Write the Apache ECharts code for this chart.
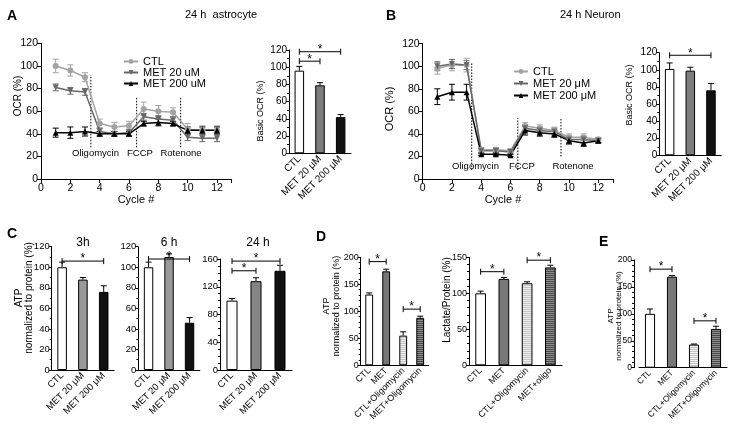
<!DOCTYPE html>
<html>
<head>
<meta charset="utf-8">
<script src="https://cdn.jsdelivr.net/npm/echarts@6/dist/echarts.min.js"></script>
<style>html,body{margin:0;padding:0;background:#fff}#chart{width:734px;height:430px}</style>
</head>
<body>
<div id="chart"></div>
<script>
// ---- data ----
var cycles = [1, 2, 3, 4, 5, 6, 7, 8, 9, 10, 11, 12];

// A: 24 h astrocyte, OCR (%)
var aCtl = [100, 96, 90, 49, 46, 47, 62, 60, 59, 44, 43, 43];
var aCtlErr = [6, 5, 4, 4, 4, 4, 6, 5, 4, 5, 4, 4];
var aMet20 = [81, 78, 77, 42, 40, 41, 55, 53, 52, 37, 36, 36];
var aMet20Err = [3, 3, 3, 3, 2, 3, 3, 3, 3, 3, 3, 3];
var aMet200 = [41, 41, 42, 40, 40, 40, 49, 50, 49, 43, 43, 43];
var aMet200Err = [4, 5, 4, 2, 2, 2, 2, 3, 2, 3, 3, 3];

// B: 24 h neuron, OCR (%)
var bCtl = [98, 101, 101, 26, 26, 25, 47, 45, 43, 37, 37, 35];
var bCtlErr = [5, 5, 6, 2, 2, 2, 3, 3, 3, 3, 3, 2];
var bMet20 = [100, 102, 101, 25, 25, 24, 45, 43, 42, 35, 35, 34];
var bMet20Err = [4, 4, 4, 2, 2, 2, 3, 3, 3, 3, 3, 2];
var bMet200 = [73, 77, 77, 22, 22, 21, 43, 41, 40, 34, 32, 34];
var bMet200Err = [7, 7, 7, 1, 1, 1, 4, 3, 3, 3, 3, 2];

// injection marks: [cycle, from, to]
var aInject = [[3.4, 28, 92], [6.52, 28, 72], [9.52, 28, 72]];
var bInject = [[3.35, 8, 103], [6.5, 8, 54], [9.45, 20, 54]];

var doseCatsA = ['CTL', 'MET 20 μM', 'MET 200 μM'];
var oligoCats = ['CTL', 'MET', 'CTL+Oligomycin', 'MET+Oligomycin'];
var lactCats = ['CTL', 'MET', 'CTL+Oligomycin', 'MET+oligo'];

var aBasic = [96, 79, 42], aBasicErr = [5, 3, 3];
var bBasic = [101, 99, 76], bBasicErr = [7, 4, 8];
var c3h = [100, 88, 76], c3hErr = [5, 2, 6];
var c6h = [100, 110, 46], c6hErr = [5, 3, 5];
var c24h = [100, 128, 143], c24hErr = [3, 5, 8];
var dAtp = [131, 174, 55, 88], dAtpErr = [3, 4, 7, 3];
var dLact = [100, 120, 114, 136], dLactErr = [3, 2, 2, 3];
var eAtp = [100, 169, 43, 72], eAtpErr = [9, 2, 1, 5];

// significance brackets: [from, to, height]
var aBasicSig = [[0, 1, 107], [0, 2, 118]];
var bBasicSig = [[0, 2, 117]];
var c3hSig = [[0, 2, 106]];
var c6hSig = [[0, 2, 108]];
var c24hSig = [[0, 1, 143], [0, 2, 157]];
var dAtpSig = [[0, 1, 192], [2, 3, 104]];
var dLactSig = [[0, 1, 130], [2, 3, 146]];
var eAtpSig = [[0, 1, 183], [2, 3, 87]];

// ---- helpers ----
var FONT = '"Liberation Sans", Arial, sans-serif';
var grids = [], xAxes = [], yAxes = [], series = [];

function stripes(base, line) {
  var c = document.createElement('canvas');
  c.width = 4; c.height = 2;
  var g = c.getContext('2d');
  g.fillStyle = base; g.fillRect(0, 0, 4, 2);
  g.fillStyle = line; g.fillRect(0, 0, 4, 1);
  return { image: c, repeat: 'repeat' };
}

function errSeries(gi, xs, vals, errs, color, upOnly, cap) {
  return {
    type: 'custom', xAxisIndex: gi, yAxisIndex: gi, silent: true, z: 4,
    data: vals.map(function (v, i) { return [xs[i], v, errs[i]]; }),
    renderItem: function (params, api) {
      var x = api.value(0), v = api.value(1), e = api.value(2);
      var t = api.coord([x, v + e]);
      var b = upOnly ? api.coord([x, v]) : api.coord([x, v - e]);
      var st = { stroke: color, lineWidth: 1 };
      var ch = [
        { type: 'line', shape: { x1: t[0], y1: t[1], x2: b[0], y2: b[1] }, style: st },
        { type: 'line', shape: { x1: t[0] - cap, y1: t[1], x2: t[0] + cap, y2: t[1] }, style: st }
      ];
      if (!upOnly) ch.push({ type: 'line', shape: { x1: b[0] - cap, y1: b[1], x2: b[0] + cap, y2: b[1] }, style: st });
      return { type: 'group', children: ch };
    }
  };
}

function bracketSeries(gi, list) {
  return {
    type: 'custom', xAxisIndex: gi, yAxisIndex: gi, silent: true, z: 6,
    data: list,
    renderItem: function (params, api) {
      var a = api.coord([api.value(0), api.value(2)]);
      var b = api.coord([api.value(1), api.value(2)]);
      var st = { stroke: '#000', lineWidth: 1 };
      return { type: 'group', children: [
        { type: 'line', shape: { x1: a[0], y1: a[1], x2: b[0], y2: b[1] }, style: st },
        { type: 'line', shape: { x1: a[0], y1: a[1] - 3, x2: a[0], y2: a[1] + 3 }, style: st },
        { type: 'line', shape: { x1: b[0], y1: b[1] - 3, x2: b[0], y2: b[1] + 3 }, style: st },
        { type: 'text', style: { text: '*', x: (a[0] + b[0]) / 2, y: a[1] + 4, align: 'center', verticalAlign: 'bottom',
          fontSize: 12, fontFamily: FONT, fill: '#000' } }
      ] };
    }
  };
}

function dashSeries(gi, list) {
  return {
    type: 'custom', xAxisIndex: gi, yAxisIndex: gi, silent: true, z: 3,
    data: list,
    renderItem: function (params, api) {
      var p = api.coord([api.value(0), api.value(1)]);
      var q = api.coord([api.value(0), api.value(2)]);
      return { type: 'line', shape: { x1: p[0], y1: p[1], x2: q[0], y2: q[1] },
        style: { stroke: '#000', lineWidth: 1, lineDash: [1.5, 1.5] } };
    }
  };
}

var blk = { color: '#000', width: 1 };

function linePanel(box, sets) {
  var gi = grids.length;
  grids.push({ left: box[0], top: box[1], width: box[2], height: box[3], outerBoundsMode: 'none' });
  xAxes.push({ gridIndex: gi, type: 'value', min: 0, max: 13, interval: 2,
    axisLine: { lineStyle: blk }, axisTick: { length: 4, lineStyle: blk }, splitLine: { show: false },
    axisLabel: { fontSize: 10.5, fontFamily: FONT, color: '#000', margin: 4,
      formatter: function (v) { return v > 12 ? '' : v; } } });
  yAxes.push({ gridIndex: gi, type: 'value', min: 0, max: 120, interval: 20,
    axisLine: { show: true, lineStyle: blk }, axisTick: { show: true, length: 4, lineStyle: blk },
    splitLine: { show: false },
    axisLabel: { fontSize: 10.5, fontFamily: FONT, color: '#000', margin: 3 } });
  sets.forEach(function (s) {
    series.push({ type: 'line', name: s.name, xAxisIndex: gi, yAxisIndex: gi, z: 5,
      data: cycles.map(function (c, i) { return [c, s.vals[i]]; }),
      symbol: s.symbol, symbolSize: 6, symbolRotate: s.rot || 0, showSymbol: true,
      lineStyle: { color: s.color, width: 1.5 }, itemStyle: { color: s.color }, emphasis: { disabled: true } });
    series.push(errSeries(gi, cycles, s.vals, s.errs, s.color, false, 3));
  });
  return gi;
}

function barPanel(box, cats, vals, errs, colors, ymax, yint, minor, fs, sig, yOff) {
  var gi = grids.length;
  grids.push({ left: box[0], top: box[1], width: box[2], height: box[3], outerBoundsMode: 'none' });
  xAxes.push({ gridIndex: gi, type: 'category', data: cats,
    axisLine: { lineStyle: blk }, axisTick: { alignWithLabel: true, length: 3, lineStyle: blk },
    axisLabel: { rotate: 45, interval: 0, fontSize: fs, fontFamily: FONT, color: '#000', margin: 4 } });
  yAxes.push({ gridIndex: gi, type: 'value', min: 0, max: ymax, interval: yint, offset: yOff || 0,
    axisLine: { show: true, lineStyle: blk }, axisTick: { show: true, length: 3, lineStyle: blk },
    minorTick: { show: minor > 1, splitNumber: minor, length: 2, lineStyle: blk },
    splitLine: { show: false }, minorSplitLine: { show: false },
    axisLabel: { fontSize: fs, fontFamily: FONT, color: '#000', margin: 2 } });
  series.push({ type: 'bar', xAxisIndex: gi, yAxisIndex: gi, barWidth: '46%', silent: true, z: 3,
    data: vals.map(function (v, i) {
      return { value: v, itemStyle: { color: colors[i], borderColor: '#000', borderWidth: 1 } };
    }) });
  series.push(errSeries(gi, cats.map(function (c, i) { return i; }), vals, errs, '#000', true, 3));
  series.push(bracketSeries(gi, sig));
  return gi;
}

var cCtl = '#a3a3a3', cM20 = '#686868', cM200 = '#000';

linePanel([41, 43.3, 190.7, 135.7], [
  { name: 'CTL', vals: aCtl, errs: aCtlErr, color: cCtl, symbol: 'circle' },
  { name: 'MET 20 uM', vals: aMet20, errs: aMet20Err, color: cM20, symbol: 'triangle', rot: 180 },
  { name: 'MET 200 uM', vals: aMet200, errs: aMet200Err, color: cM200, symbol: 'triangle' }
]);
series.push(dashSeries(0, aInject));

var oligoLight = stripes('#c4c4c4', '#f0f0f0');
var oligoDark = stripes('#4a4a4a', '#8c8c8c');

barPanel([289, 50, 62, 103.3], doseCatsA, aBasic, aBasicErr, ['#fff', '#7d7d7d', '#111'], 120, 20, 2, 10, aBasicSig);

var gB = linePanel([422.7, 43.7, 190.2, 135.3], [
  { name: 'CTL', vals: bCtl, errs: bCtlErr, color: cCtl, symbol: 'circle' },
  { name: 'MET 20 μM', vals: bMet20, errs: bMet20Err, color: cM20, symbol: 'triangle', rot: 180 },
  { name: 'MET 200 μM', vals: bMet200, errs: bMet200Err, color: cM200, symbol: 'triangle' }
]);
series.push(dashSeries(gB, bInject));

barPanel([659.3, 52.7, 62, 102.6], doseCatsA, bBasic, bBasicErr, ['#fff', '#7d7d7d', '#111'], 120, 20, 2, 10, bBasicSig);

barPanel([51.7, 246.7, 62.4, 123.3], doseCatsA, c3h, c3hErr, ['#fff', '#999', '#111'], 120, 20, 2, 9.5, c3hSig);
barPanel([138.3, 246.7, 61.5, 123.3], doseCatsA, c6h, c6hErr, ['#fff', '#999', '#111'], 120, 20, 2, 9.5, c6hSig);
barPanel([220, 259, 72, 111], doseCatsA, c24h, c24hErr, ['#fff', '#858585', '#111'], 160, 40, 4, 9.5, c24hSig);

barPanel([360.7, 257.3, 68, 108], oligoCats, dAtp, dAtpErr, ['#fff', '#777', oligoLight, oligoDark], 200, 50, 5, 9, dAtpSig);
barPanel([469, 257.3, 93, 108], lactCats, dLact, dLactErr, ['#fff', '#777', oligoLight, oligoDark], 150, 50, 5, 9, dLactSig);
barPanel([639, 260, 88, 107.7], oligoCats, eAtp, eAtpErr, ['#fff', '#777', oligoLight, oligoDark], 200, 50, 5, 8.5, eAtpSig, 5);

function txt(x, y, s, size, opts) {
  opts = opts || {};
  return { type: 'text', x: x, y: y, rotation: opts.rot || 0, silent: true,
    style: { text: s, fontSize: size, fontFamily: FONT, fontWeight: opts.bold ? 'bold' : 'normal', fill: '#000',
      align: opts.align || 'center', verticalAlign: 'middle', lineHeight: opts.lh || size * 1.2 } };
}
var R = Math.PI / 2;

var graphics = [
  txt(7, 16, 'A', 14, { bold: true, align: 'left' }),
  txt(185, 15, '24 h  astrocyte', 11, { align: 'left' }),
  txt(386, 16, 'B', 14, { bold: true, align: 'left' }),
  txt(560, 15, '24 h Neuron', 11, { align: 'left' }),
  txt(7, 234, 'C', 14, { bold: true, align: 'left' }),
  txt(316, 237, 'D', 14, { bold: true, align: 'left' }),
  txt(599, 242, 'E', 14, { bold: true, align: 'left' }),
  txt(83, 243, '3h', 12), txt(169, 243, '6 h', 12), txt(258, 243, '24 h', 12),
  txt(95.5, 153, 'Oligomycin', 9.5), txt(140, 153, 'FCCP', 9.5), txt(181, 153, 'Rotenone', 9.5),
  txt(475.5, 166, 'Oligomycin', 9.5), txt(522, 166, 'FCCP', 9.5), txt(573, 166, 'Rotenone', 9.5),
  txt(136, 200, 'Cycle #', 11), txt(503, 200, 'Cycle #', 11),
  txt(18, 96, 'OCR (%)', 10, { rot: R }),
  txt(390, 109, 'OCR (%)', 11, { rot: R }),
  txt(261, 111, 'Basic OCR (%)', 9, { rot: R }),
  txt(630, 95, 'Basic OCR (%)', 9, { rot: R }),
  txt(24, 298, 'ATP\nnormalized to protein (%)', 10, { rot: R, lh: 9.5 }),
  txt(331.5, 306, 'ATP\nnormalized to protein (%)', 9, { rot: R, lh: 10 }),
  txt(447, 300, 'Lactate/Protein (%)', 10, { rot: R }),
  txt(614.5, 316, 'ATP\nnormalized to protein (%)', 8, { rot: R, lh: 8 })
];

var chart = echarts.init(document.getElementById('chart'), null, { renderer: 'canvas' });
chart.setOption({
  animation: false,
  backgroundColor: '#fff',
  textStyle: { fontFamily: FONT },
  grid: grids,
  xAxis: xAxes,
  yAxis: yAxes,
  legend: [
    { data: ['CTL', 'MET 20 uM', 'MET 200 uM'], left: 118, top: 51, orient: 'vertical', itemWidth: 14, itemHeight: 6,
      itemGap: 0, selectedMode: false, textStyle: { fontSize: 11, fontFamily: FONT, color: '#000' } },
    { data: ['CTL', 'MET 20 μM', 'MET 200 μM'], left: 508, top: 61, orient: 'vertical', itemWidth: 14, itemHeight: 6,
      itemGap: 1, selectedMode: false, textStyle: { fontSize: 11, fontFamily: FONT, color: '#000' } }
  ],
  graphic: graphics,
  series: series
});
</script>
</body>
</html>
